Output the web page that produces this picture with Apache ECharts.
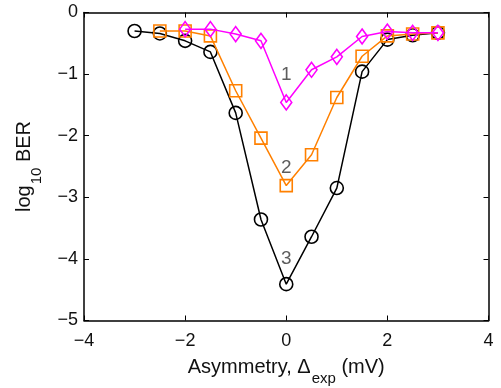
<!DOCTYPE html>
<html>
<head>
<meta charset="utf-8">
<script src="https://cdn.jsdelivr.net/npm/echarts@6/dist/echarts.min.js"></script>
<style>
  html, body {margin: 0; padding: 0; background: #fff;}
  #chart {width: 501px; height: 388px;}
</style>
</head>
<body>
<div id="chart"></div>
<script>
// asymmetry values (mV)
const xBlack = [-3, -2.5, -2, -1.5, -1, -0.5, 0, 0.5, 1, 1.5, 2, 2.5, 3]
const xOrange = [-2.5, -2, -1.5, -1, -0.5, 0, 0.5, 1, 1.5, 2, 2.5, 3]
const xMagenta = [-2, -1.5, -1, -0.5, 0, 0.5, 1, 1.5, 2, 2.5, 3]

// log10 BER
const berBlack = [-0.30, -0.34, -0.46, -0.64, -1.63, -3.36, -4.41, -3.64, -2.85, -0.96, -0.44, -0.37, -0.33]
const berOrange = [-0.30, -0.30, -0.38, -1.27, -2.04, -2.81, -2.31, -1.38, -0.71, -0.38, -0.35, -0.33]
const berMagenta = [-0.27, -0.27, -0.35, -0.46, -1.46, -0.93, -0.72, -0.39, -0.31, -0.33, -0.33]

// curve labels
const curveLabels = ['1', '2', '3']
const labelY = [-1.01, -2.52, -3.99]

const font = 'Liberation Sans, Arial, sans-serif'
const minus = v => String(v).replace('-', '\u2212')
const pairs = (xs, ys) => xs.map((x, i) => [x, ys[i]])

const chart = echarts.init(document.getElementById('chart'))

const xBase = {
  type: 'value', min: -4, max: 4, interval: 2,
  axisLine: {onZero: false, lineStyle: {color: '#000', width: 1.5}},
  axisTick: {inside: true, length: 5, lineStyle: {color: '#000'}},
  splitLine: {show: false},
}
const yBase = {
  type: 'value', min: -5, max: 0, interval: 1,
  axisLine: {onZero: false, lineStyle: {color: '#000', width: 1.5}},
  axisTick: {inside: true, length: 5, lineStyle: {color: '#000'}},
  splitLine: {show: false},
}

function makeSeries(name, xs, ys, color, symbol, size, z) {
  return {
    name, type: 'line', data: pairs(xs, ys), z,
    symbol, symbolSize: size, showAllSymbol: true,
    lineStyle: {color, width: 1.5},
    itemStyle: {color: 'none', borderColor: color, borderWidth: 1.6},
    emphasis: {disabled: true},
    animation: false,
  }
}

const series = [
  makeSeries('3', xBlack, berBlack, '#000000', 'circle', 13, 2),
  makeSeries('2', xOrange, berOrange, '#ff8000', 'rect', 12, 3),
  makeSeries('1', xMagenta, berMagenta, '#ff00ff', 'diamond', [11, 15], 4),
]

// numbered curve labels
series.push({
  type: 'scatter', z: 10, symbolSize: 0, silent: true,
  data: curveLabels.map((t, i) => ({value: [0, labelY[i]], name: t})),
  label: {
    show: true, position: 'inside', formatter: p => p.name,
    color: '#333', fontSize: 19, fontFamily: font,
  },
  animation: false,
})

chart.setOption({
  animation: false,
  grid: {left: 84, right: 12.5, top: 12.5, bottom: 67.5, outerBoundsMode: 'none', containLabel: false},
  xAxis: [
    Object.assign({}, xBase, {
      position: 'bottom',
      axisLabel: {color: '#111', fontSize: 18, fontFamily: font, margin: 12, formatter: minus},
      name: '{a|Asymmetry, \u0394}{s|exp}{a| (mV)}',
      nameLocation: 'middle', nameGap: 27,
      nameTextStyle: {
        rich: {
          a: {fontSize: 20, fontFamily: font, color: '#111'},
          s: {fontSize: 15, fontFamily: font, color: '#111', padding: [24, 0, 0, 1]},
        },
      },
    }),
    Object.assign({}, xBase, {position: 'top', axisLabel: {show: false}}),
  ],
  yAxis: [
    Object.assign({}, yBase, {
      position: 'left',
      axisLabel: {color: '#111', fontSize: 18, fontFamily: font, margin: 6, formatter: minus},
      name: '{a|log}{s|10}{a| BER}',
      nameLocation: 'middle', nameGap: 40, nameRotate: 90,
      nameTextStyle: {
        rich: {
          a: {fontSize: 20, fontFamily: font, color: '#111'},
          s: {fontSize: 15, fontFamily: font, color: '#111', padding: [24, 0, 0, 1]},
        },
      },
    }),
    Object.assign({}, yBase, {position: 'right', axisLabel: {show: false}}),
  ],
  series,
})
</script>
</body>
</html>
